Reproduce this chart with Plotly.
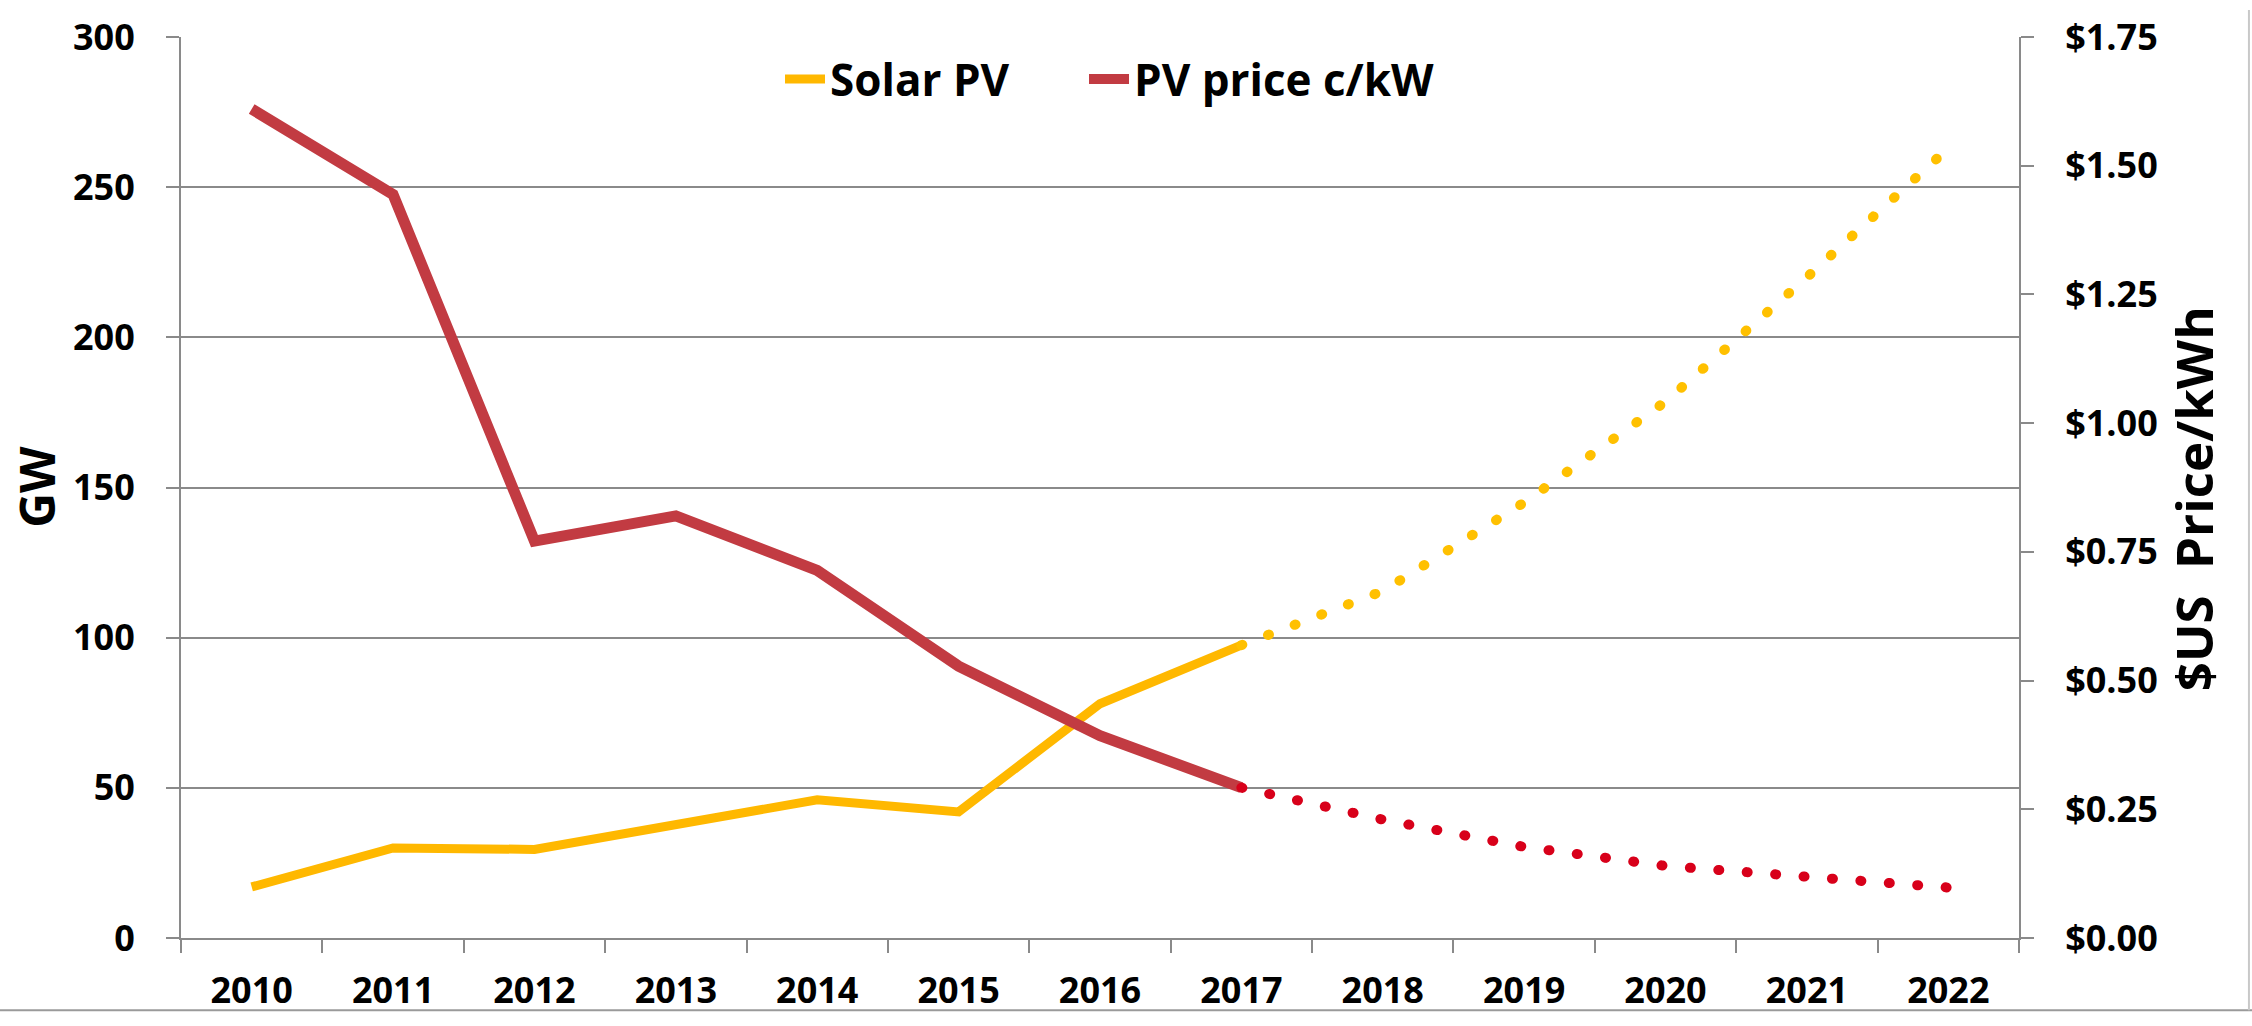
import plotly.graph_objects as go

years = ["2010", "2011", "2012", "2013", "2014", "2015", "2016", "2017",
         "2018", "2019", "2020", "2021", "2022"]

# Solar PV installed (GW) - actual 2010-2017, projection 2017-2022
solar_actual = [17, 30, 29.5, 38, 46, 42, 78, 97.5, None, None, None, None, None]
solar_projection = [None, None, None, None, None, None, None, 97.5, 115.5, 145, 178.6, 220, 263]

# PV price ($US/kWh) - actual 2010-2017, projection 2017-2022
price_actual = [1.61, 1.444, 0.771, 0.82, 0.714, 0.528, 0.393, 0.292, None, None, None, None, None]
price_projection = [None, None, None, None, None, None, None, 0.292, 0.230, 0.177, 0.140, 0.119, 0.098]

left_ticks = [0, 50, 100, 150, 200, 250, 300]
right_ticks = [0, 0.25, 0.5, 0.75, 1.0, 1.25, 1.5, 1.75]
right_tick_labels = ["$0.00", "$0.25", "$0.50", "$0.75", "$1.00", "$1.25", "$1.50", "$1.75"]

FONT = "Open Sans, Calibri, Carlito, sans-serif"
GRID = "#8a8a8a"
YELLOW = "#FFB800"
RED = "#C23B42"
RED_DOT = "#D8001A"
YELLOW_DOT = "#FFC000"

fig = go.Figure()

fig.add_trace(go.Scatter(
    x=years, y=solar_actual, name="Solar PV", mode="lines",
    line=dict(color=YELLOW, width=9), yaxis="y", legend="legend"))
fig.add_trace(go.Scatter(
    x=years, y=solar_projection, name="Solar PV projection", mode="lines",
    line=dict(color=YELLOW_DOT, width=10, dash="1px,27.5px"), yaxis="y", showlegend=False))
fig.add_trace(go.Scatter(
    x=years, y=price_actual, name="PV price c/kW", mode="lines",
    line=dict(color=RED, width=11), yaxis="y2", legend="legend2"))
fig.add_trace(go.Scatter(
    x=years, y=price_projection, name="PV price projection", mode="lines",
    line=dict(color=RED_DOT, width=10, dash="1px,27.5px"), yaxis="y2", showlegend=False))

tickfont = dict(family=FONT, size=36, color="black", weight="bold")
legfont = dict(family=FONT, size=44, color="black", weight="bold")

fig.update_layout(
    width=2252, height=1026,
    margin=dict(l=181, r=233, t=27, b=77),
    paper_bgcolor="white", plot_bgcolor="white",
    showlegend=True,
    legend=dict(orientation="h", x=0.3259, y=0.953, xanchor="left", yanchor="middle",
                font=legfont, bgcolor="rgba(0,0,0,0)", itemwidth=40),
    legend2=dict(orientation="h", x=0.4913, y=0.953, xanchor="left", yanchor="middle",
                 font=legfont, bgcolor="rgba(0,0,0,0)", itemwidth=40),
    xaxis=dict(type="category", range=[-0.5, 12.5], showgrid=False, zeroline=False,
               showline=True, linecolor=GRID, linewidth=2,
               ticks="outside", tickson="boundaries", ticklen=13, tickwidth=2, tickcolor=GRID,
               tickfont=tickfont, ticklabelstandoff=20),
    yaxis=dict(range=[0, 300], tickvals=left_ticks, showgrid=True, gridcolor=GRID, gridwidth=2,
               zeroline=False, showline=True, linecolor=GRID, linewidth=2,
               ticks="outside", ticklen=13, tickwidth=2, tickcolor=GRID,
               tickfont=tickfont, ticklabelstandoff=24),
    yaxis2=dict(range=[0, 1.75], tickvals=right_ticks, ticktext=right_tick_labels,
                overlaying="y", side="right", showgrid=False, zeroline=False,
                showline=True, linecolor=GRID, linewidth=2,
                ticks="outside", ticklen=13, tickwidth=2, tickcolor=GRID,
                tickfont=tickfont, ticklabelstandoff=24),
    annotations=[
        dict(text="GW", xref="paper", yref="paper", x=-0.0783, y=0.501, textangle=-90,
             showarrow=False, xanchor="center", yanchor="middle",
             font=dict(family=FONT, size=48, color="black", weight="bold")),
        dict(text="$US  Price/kWh", xref="paper", yref="paper", x=1.0947, y=0.487, textangle=-90,
             showarrow=False, xanchor="center", yanchor="middle",
             font=dict(family=FONT, size=51, color="black", weight="bold")),
    ],
    shapes=[
        dict(type="line", xref="paper", yref="paper", x0=-0.0985, x1=1.1268, y0=-0.0803, y1=-0.0803,
             line=dict(color="#9a9a9a", width=2)),
        dict(type="line", xref="paper", yref="paper", x0=1.1251, x1=1.1251, y0=-0.0803, y1=1.03,
             line=dict(color="#c8c8c8", width=2)),
    ],
)

post = """
document.body.style.margin='0';
document.body.style.overflow='hidden';
var gd=document.getElementById('{plot_id}');
gd.querySelectorAll('path.js-line').forEach(function(p){
  var d=p.style.strokeDasharray;
  if(d && d!=='none' && d!==''){p.style.strokeLinecap='round';}
});
"""

fig.write_html("out.html", post_script=post, config={"displayModeBar": False})
